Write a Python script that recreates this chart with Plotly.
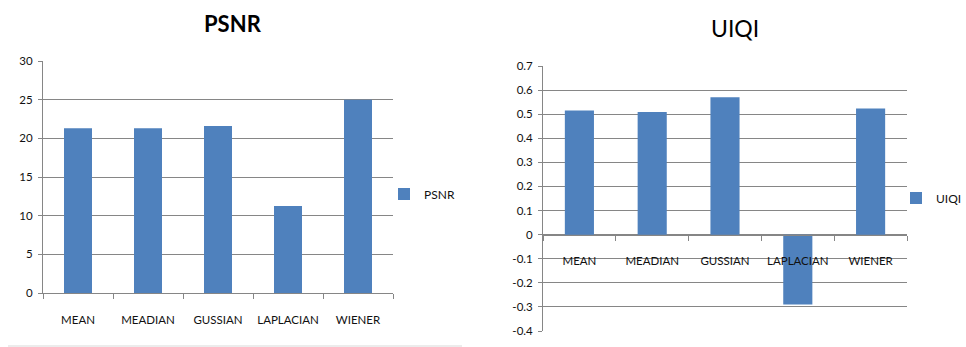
import plotly.graph_objects as go

categories = ["MEAN", "MEADIAN", "GUSSIAN", "LAPLACIAN", "WIENER"]
psnr_values = [21.3, 21.3, 21.6, 11.25, 25.0]
uiqi_values = [0.515, 0.509, 0.570, -0.29, 0.524]
psnr_ticks = [0, 5, 10, 15, 20, 25, 30]
uiqi_ticks = [-0.4, -0.3, -0.2, -0.1, 0, 0.1, 0.2, 0.3, 0.4, 0.5, 0.6, 0.7]
uiqi_ticktext = ["-0.4", "-0.3", "-0.2", "-0.1", "0", "0.1", "0.2", "0.3", "0.4", "0.5", "0.6", "0.7"]

W, H = 966, 347
BAR = "#4f81bd"
GRID = "#868686"
TXT = "#111111"
FONT = "Lato"


def px_x(v):
    return v / W


def px_y(v):
    return 1 - v / H


left_x = [px_x(43), px_x(393)]
left_y = [px_y(293), px_y(61)]
right_x = [px_x(543), px_x(907)]
right_y = [px_y(331), px_y(66)]
uiqi_range = [-0.4, 0.7]
zero_pos = right_y[0] + (0 - uiqi_range[0]) / (uiqi_range[1] - uiqi_range[0]) * (right_y[1] - right_y[0])

fig = go.Figure()
fig.add_trace(go.Bar(x=categories, y=psnr_values, name="PSNR", marker=dict(color=BAR, line=dict(width=0)),
                     xaxis="x", yaxis="y", legend="legend", showlegend=True))
fig.add_trace(go.Bar(x=categories, y=uiqi_values, name="UIQI", marker=dict(color=BAR, line=dict(width=0)),
                     xaxis="x2", yaxis="y2", legend="legend2", showlegend=True))

xcommon = dict(type="category", tickson="boundaries", ticks="outside", ticklen=5, tickcolor=GRID,
               showline=True, linecolor=GRID, linewidth=1, showgrid=False, tickangle=0, automargin=False,
               tickfont=dict(family=FONT, size=11.5, color=TXT), ticklabelstandoff=16)
ycommon = dict(ticks="outside", ticklen=4, tickcolor=GRID, showline=True, linecolor=GRID, linewidth=1,
               showgrid=True, gridcolor=GRID, gridwidth=1, zeroline=False, automargin=False,
               tickfont=dict(family=FONT, size=11.5, color=TXT), ticklabelstandoff=3)

fig.update_layout(
    width=W, height=H,
    margin=dict(l=0, r=0, t=0, b=0, autoexpand=False),
    paper_bgcolor="white", plot_bgcolor="white",
    bargap=0.6,
    showlegend=True,
    xaxis=dict(domain=left_x, anchor="y", **xcommon),
    yaxis=dict(domain=left_y, anchor="x", range=[0, 30], tickvals=psnr_ticks, **ycommon),
    xaxis2=dict(domain=right_x, anchor="free", position=zero_pos, **xcommon),
    yaxis2=dict(domain=right_y, anchor="x2", range=uiqi_range, tickvals=uiqi_ticks,
                ticktext=uiqi_ticktext, **ycommon),
    legend=dict(x=px_x(384), y=px_y(194), xanchor="left", yanchor="middle",
                font=dict(family=FONT, size=12, color=TXT), bgcolor="rgba(0,0,0,0)"),
    legend2=dict(x=px_x(896), y=px_y(198), xanchor="left", yanchor="middle",
                 font=dict(family=FONT, size=12, color=TXT), bgcolor="rgba(0,0,0,0)"),
    annotations=[
        dict(text="<b>PSNR</b>", x=px_x(233), y=px_y(24), xref="paper", yref="paper",
             xanchor="center", yanchor="middle", showarrow=False,
             font=dict(family=FONT, size=22, color="#000000")),
        dict(text="UIQI", x=px_x(735), y=px_y(28), xref="paper", yref="paper",
             xanchor="center", yanchor="middle", showarrow=False,
             font=dict(family=FONT, size=23, color="#000000")),
    ],
    shapes=[
        dict(type="line", xref="paper", yref="paper", x0=px_x(8), x1=px_x(462), y0=px_y(346), y1=px_y(346),
             line=dict(color="#d9d9d9", width=1)),
    ],
)

fig.write_html("out.html")
